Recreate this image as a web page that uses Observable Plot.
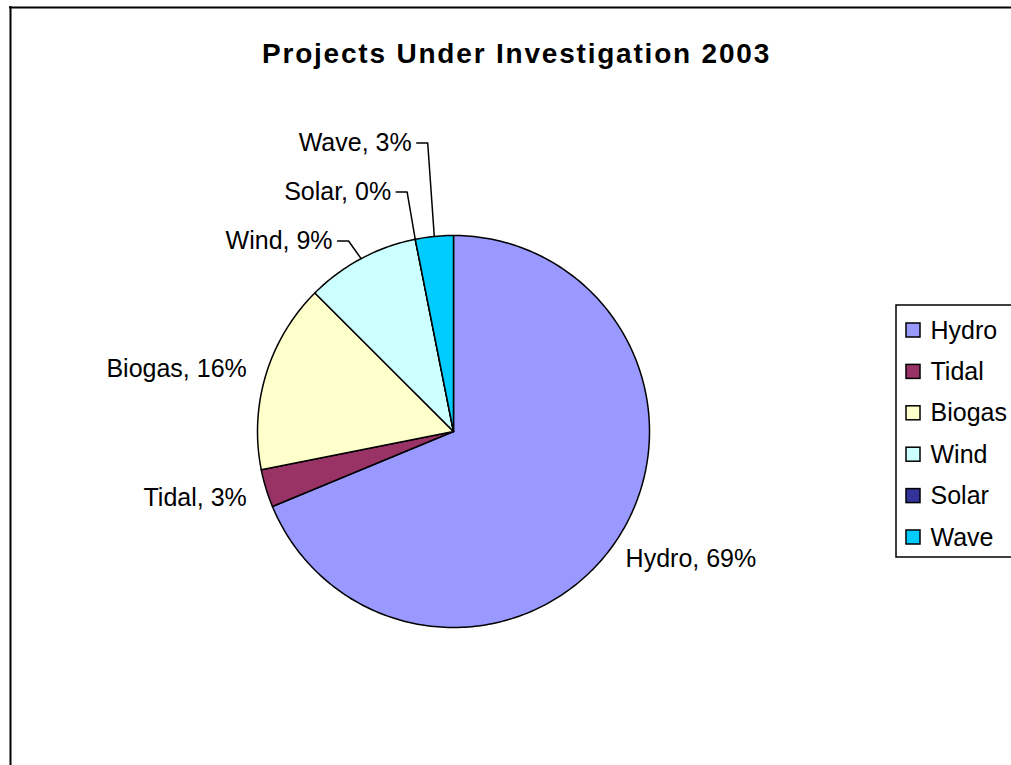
<!DOCTYPE html>
<html><head><meta charset="utf-8">
<script src="https://cdn.jsdelivr.net/npm/d3@7"></script>
<script src="https://cdn.jsdelivr.net/npm/@observablehq/plot@0.6"></script>
<style>html,body{margin:0;padding:0;background:#fff;overflow:hidden;} #chart svg{display:block;}</style>
</head><body><div id="chart"></div>
<script>
// ---- data ----
const categories = ["Hydro", "Tidal", "Biogas", "Wind", "Solar", "Wave"];
const projects = [22, 1, 5, 3, 0, 1];
const colors = ["#9999FF", "#993366", "#FFFFCC", "#CCFFFF", "#333399", "#00CCFF"];
const title = "Projects Under Investigation 2003";

// ---- layout ----
const W = 1011, H = 765;
const cx = 453, cy = 431, R = 196;
const FONT = "'Liberation Sans', Arial, sans-serif";

const total = d3.sum(projects);
const arcs = d3.pie().sort(null).value(d => d.value)(categories.map((name, i) => ({name, value: projects[i]})));

// slice outlines
const slicePts = [];
arcs.forEach(a => {
  const name = a.data.name;
  slicePts.push({name, x: cx, y: cy});
  const n = Math.max(1, Math.ceil((a.endAngle - a.startAngle) / (Math.PI / 180)));
  for (let k = 0; k <= n; k++) {
    const t = a.startAngle + (a.endAngle - a.startAngle) * k / n;
    slicePts.push({name, x: cx + R * Math.sin(t), y: cy - R * Math.cos(t)});
  }
  slicePts.push({name, x: cx, y: cy});
});

// data labels
const labels = arcs.map(a => {
  const m = (a.startAngle + a.endAngle) / 2, ux = Math.sin(m), uy = -Math.cos(m);
  const pct = Math.round(a.data.value / total * 100);
  const gap = ux < 0 ? 20 : 11;
  return {
    name: a.data.name, text: `${a.data.name}, ${pct}%`, ux, uy,
    ex: cx + R * ux, ey: cy + R * uy,
    x: cx + (R + gap) * ux, y: cy + (R + 20) * uy + 13 * Math.max(0, uy),
    anchor: ux < 0 ? "end" : "start", leader: false
  };
});
const minGap = 49;
["end", "start"].forEach(side => {
  const g = labels.filter(l => l.anchor === side).sort((a, b) => b.y - a.y);
  for (let i = 1; i < g.length; i++) {
    if (g[i].y > g[i - 1].y - minGap) {
      g[i].y = g[i - 1].y - minGap;
      g[i].leader = true; g[i - 1].leader = true;
    }
  }
});
const leaderPts = [];
labels.forEach(l => {
  if (!l.leader) return;
  const s = l.anchor === "end" ? -1 : 1;
  const elx = cx + (R + 16) * l.ux + 5 * s;
  leaderPts.push({name: l.name, x: l.ex, y: l.ey});
  leaderPts.push({name: l.name, x: elx, y: l.y});
  leaderPts.push({name: l.name, x: elx + 11 * s, y: l.y});
  l.x = elx + 16 * s;
});

// legend
const legendRows = categories.map((name, i) => ({name, i}));
const lgBox = [{x1: 896, x2: W + 10, y1: 305, y2: 557}];
const rowTop = 330, rowStep = 41.4;

// frame (left and top edges only are visible)
const frameV = [{x: 10, y1: 6, y2: H}];
const frameH = [{y: 7, x1: 9, x2: W}];

const chart = Plot.plot({
  width: W, height: H,
  marginTop: 0, marginRight: 0, marginBottom: 0, marginLeft: 0,
  style: {fontFamily: FONT, background: "#fff", overflow: "hidden"},
  x: {domain: [0, W], range: [0, W], axis: null},
  y: {domain: [0, H], range: [0, H], axis: null},
  color: {domain: categories, range: colors},
  marks: [
    Plot.ruleX(frameV, {x: "x", y1: "y1", y2: "y2", stroke: "black", strokeWidth: 2}),
    Plot.ruleY(frameH, {y: "y", x1: "x1", x2: "x2", stroke: "black", strokeWidth: 2}),
    Plot.text([title], {x: () => 516, y: () => 54, text: d => d, fontSize: 28, fontWeight: "bold", fontFamily: FONT, fill: "black"}),
    Plot.line(slicePts, {x: "x", y: "y", z: "name", fill: "name", stroke: "black", strokeWidth: 1.5, strokeLinejoin: "round", curve: "linear"}),
    Plot.line(leaderPts, {x: "x", y: "y", z: "name", stroke: "black", strokeWidth: 1.5, curve: "linear"}),
    Plot.text(labels.filter(l => l.anchor === "start"), {x: "x", y: "y", text: "text", textAnchor: "start", fontSize: 25, fontFamily: FONT, fill: "black"}),
    Plot.text(labels.filter(l => l.anchor === "end"), {x: "x", y: "y", text: "text", textAnchor: "end", fontSize: 25, fontFamily: FONT, fill: "black"}),
    Plot.rect(lgBox, {x1: "x1", x2: "x2", y1: "y1", y2: "y2", fill: "white", stroke: "black", strokeWidth: 1.5}),
    Plot.rect(legendRows, {x1: () => 906, x2: () => 920, y1: d => rowTop + d.i * rowStep - 7, y2: d => rowTop + d.i * rowStep + 7, fill: "name", stroke: "black", strokeWidth: 1.5}),
    Plot.text(legendRows, {x: () => 930, y: d => rowTop + d.i * rowStep, text: "name", textAnchor: "start", fontSize: 25, fontFamily: FONT, fill: "black"})
  ]
});
d3.select(chart).selectAll("text").filter(function () { return this.textContent === title; }).attr("letter-spacing", "1.8px");
document.getElementById("chart").appendChild(chart);
</script>
</body></html>
